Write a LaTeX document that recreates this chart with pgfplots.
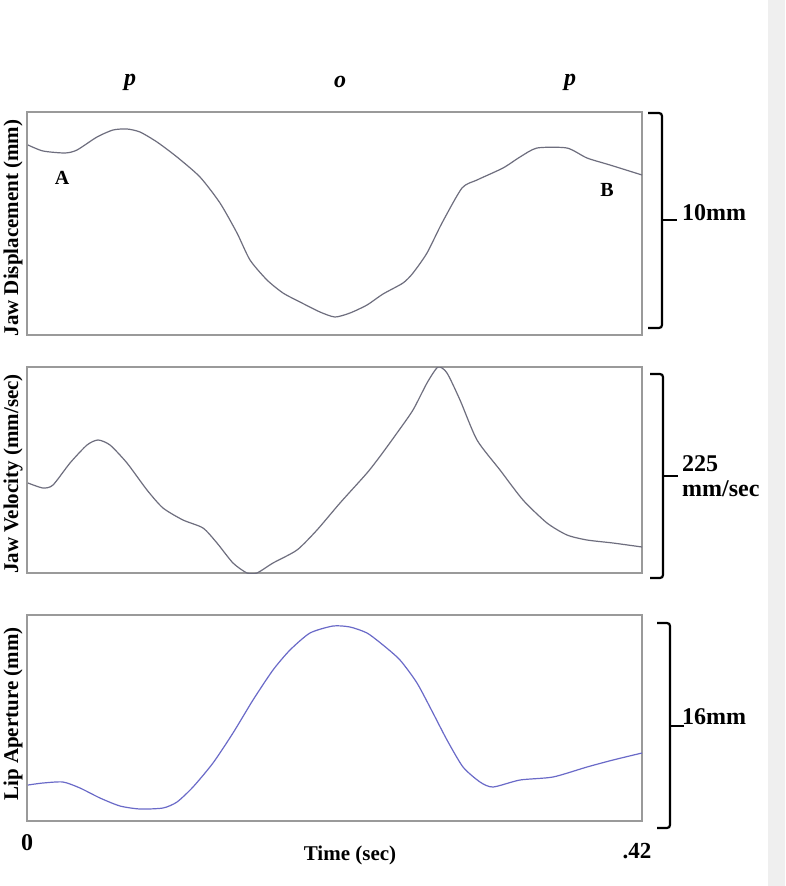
\documentclass[border=0pt]{standalone}
\usepackage{pgfplots}
\pgfplotsset{compat=1.18}
\usepackage{fontspec}
\setmainfont{Liberation Serif}
\definecolor{frame}{HTML}{9A9A9A}
\definecolor{jaw}{HTML}{6E6E7E}
\definecolor{lip}{HTML}{6A6AC8}
\definecolor{strip}{HTML}{EFEFEF}
\pgfplotsset{
  panel/.style={
    scale only axis, width=615pt, xmin=27, xmax=642, y dir=reverse,
    xtick=\empty, ytick=\empty,
    axis line style={frame, line width=1.6pt},
    anchor=north west,
  },
}
\newcommand{\lab}[1]{\fontsize{#1}{#1}\selectfont\bfseries}
\begin{document}
\begin{tikzpicture}
\fill[white] (0pt,0pt) rectangle (785pt,-886pt);
\fill[strip] (768pt,0pt) rectangle (785pt,-886pt);

% Panel 1: Jaw displacement
\begin{axis}[panel, height=223pt, ymin=112, ymax=335, at={(27pt,-112pt)}]
\addplot[jaw, line width=1.2pt, smooth, tension=0.4] coordinates {
(28,145) (43,151) (65,153) (77,150) (97,137) (113,130) (127,129) (140,132)
(157,142) (177,157) (200,177) (220,203) (237,233) (250,260) (267,280)
(283,293) (300,302) (320,312) (335,317) (350,313) (367,305) (383,294)
(403,283) (413,273) (427,253) (442,223) (462,188) (477,180) (503,168)
(520,157) (537,148) (567,148) (587,158) (610,165) (642,175)};
\end{axis}

% Panel 2: Jaw velocity
\begin{axis}[panel, height=206pt, ymin=367, ymax=573, at={(27pt,-367pt)}]
\addplot[jaw, line width=1.2pt, smooth, tension=0.4] coordinates {
(28,483) (43,488) (53,485) (70,463) (87,445) (98,440) (110,445) (127,463)
(147,490) (163,508) (183,520) (203,528) (217,543) (233,563) (247,573)
(257,573) (273,563) (297,550) (317,530) (340,503) (367,473) (381,455)
(397,433) (413,410) (427,383) (438,367) (447,373) (460,400) (477,440)
(500,470) (523,500) (547,523) (567,535) (587,540) (613,543) (642,547)};
\end{axis}

% Panel 3: Lip aperture
\begin{axis}[panel, height=206pt, ymin=615, ymax=821, at={(27pt,-615pt)}]
\addplot[lip, line width=1.2pt, smooth, tension=0.4] coordinates {
(28,785) (43,783) (63,782) (80,788) (100,798) (120,806) (140,809) (163,808)
(177,802) (193,787) (213,763) (233,733) (253,700) (273,670) (290,650)
(310,633) (333,626) (350,627) (367,633) (383,645) (400,660) (417,683)
(433,713) (447,740) (463,767) (480,782) (493,787) (520,780) (553,777)
(587,767) (613,760) (642,753)};
\end{axis}

% y-axis labels
\node[rotate=90, font=\lab{21}] at (13pt,-228pt) {Jaw Displacement (mm)};
\node[rotate=90, font=\lab{21}] at (13pt,-474pt) {Jaw Velocity (mm/sec)};
\node[rotate=90, font=\lab{21}] at (13pt,-714pt) {Lip Aperture (mm)};

% top segment labels
\node[font=\lab{24}\itshape] at (130pt,-82pt) {p};
\node[font=\lab{24}\itshape] at (340pt,-82pt) {o};
\node[font=\lab{24}\itshape] at (570pt,-82pt) {p};

% point labels
\node[font=\lab{20}] at (62pt,-178pt) {A};
\node[font=\lab{20}] at (607pt,-190pt) {B};

% braces
\draw[line width=2.2pt, rounded corners=3pt] (648pt,-113pt) -- (662pt,-113pt) -- (662pt,-328pt) -- (648pt,-328pt);
\draw[line width=2.2pt] (662pt,-220pt) -- (677pt,-220pt);
\draw[line width=2.2pt, rounded corners=3pt] (650pt,-374pt) -- (663pt,-374pt) -- (663pt,-578pt) -- (650pt,-578pt);
\draw[line width=2.2pt] (663pt,-476pt) -- (678pt,-476pt);
\draw[line width=2.2pt, rounded corners=3pt] (657pt,-623pt) -- (670pt,-623pt) -- (670pt,-828pt) -- (657pt,-828pt);
\draw[line width=2.2pt] (670pt,-726pt) -- (684pt,-726pt);

% scale labels
\node[font=\lab{24}, anchor=west, inner sep=0pt] at (682pt,-213pt) {10mm};
\node[font=\lab{24}, anchor=west, inner sep=0pt, align=left] at (682pt,-476pt) {225\\[1pt]mm/sec};
\node[font=\lab{24}, anchor=west, inner sep=0pt] at (682pt,-717pt) {16mm};

% time axis labels
\node[font=\lab{24}] at (27pt,-843pt) {0};
\node[font=\lab{21}] at (350pt,-855pt) {Time (sec)};
\node[font=\lab{23}] at (637pt,-851pt) {.42};
\end{tikzpicture}
\end{document}
